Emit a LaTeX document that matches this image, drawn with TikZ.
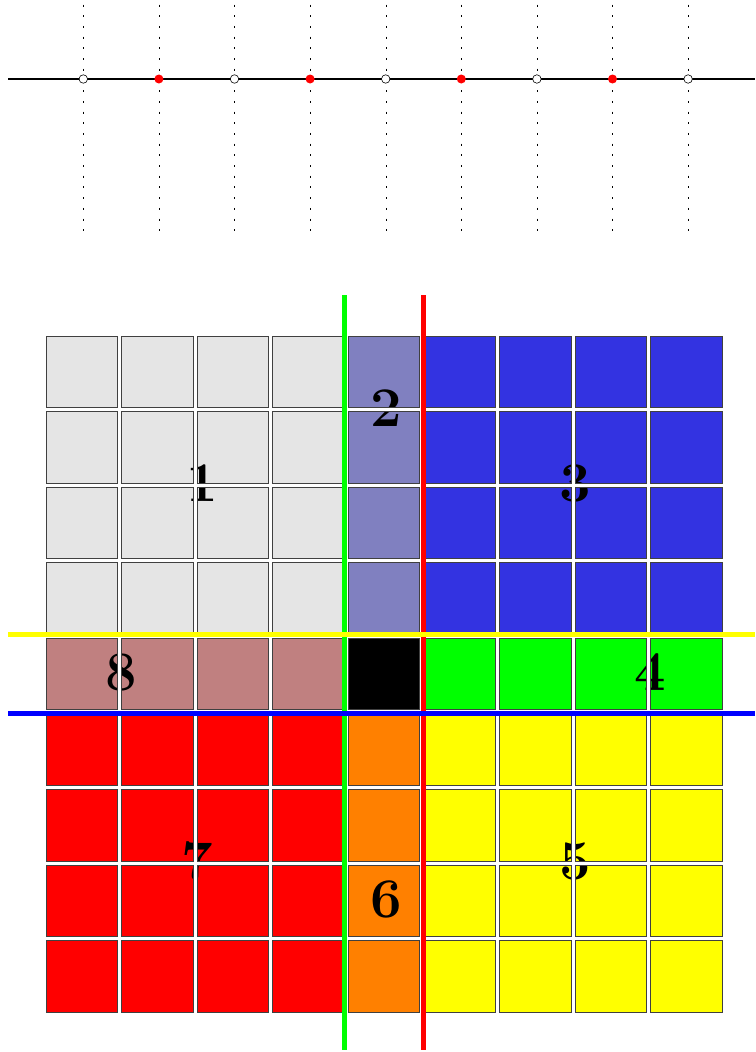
\documentclass[tikz,border=0pt]{standalone}
\usepackage{fontspec}
\definecolor{cgray}{RGB}{229,229,229}
\definecolor{cslate}{RGB}{128,128,192}
\definecolor{cblue}{RGB}{51,51,225}
\definecolor{cpink}{RGB}{192,128,128}
\definecolor{cgreen}{RGB}{0,255,0}
\definecolor{cred}{RGB}{255,0,0}
\definecolor{corange}{RGB}{255,128,0}
\definecolor{cyellow}{RGB}{255,255,0}
\newcommand\mysq[3]{\fill[#3] (46+75.6*#1,336+75.6*#2) rectangle ++(71.3,71.3);}
\begin{document}
\begin{tikzpicture}[x=1pt,y=-1pt,
  dotline/.style={line width=1pt, dash pattern=on 2pt off 8.7pt},
  opendot/.style={circle, draw=black, fill=white, line width=0.6pt, inner sep=0pt, minimum size=8.5pt},
  reddot/.style={circle, fill=red, inner sep=0pt, minimum size=9pt},
  sqborder/.style={draw=black!75, line width=0.8pt},
  lab/.style={font=\fontsize{56}{60}\selectfont\bfseries, inner sep=0pt},
  vline/.style={line width=4.6pt},
  hline/.style={line width=4.6pt}]
\useasboundingbox (0,0) rectangle (755,1052);
% top axis
\foreach \x in {83.5,159.5,234.5,310.5,386.5,461.5,537.5,612.5,688.5} \draw[dotline] (\x,4.5) -- (\x,231);
\coordinate (axl) at (8,79);
\coordinate (axr) at (755,79);
\draw[line width=2pt] (axl) -- (axr);
\foreach \k in {0,2,4,6,8} \node[opendot] (o\k) at (83.3+75.6*\k,79) {};
\foreach \k in {1,3,5,7} \node[reddot] (r\k) at (83.3+75.6*\k,79) {};
% squares
\foreach \r in {0,...,3}{
  \foreach \c in {0,...,3}{\mysq{\c}{\r}{cgray}}
  \mysq{4}{\r}{cslate}
  \foreach \c in {5,...,8}{\mysq{\c}{\r}{cblue}}
}
\foreach \c in {0,...,3}{\mysq{\c}{4}{cpink}}
\mysq{4}{4}{black}
\foreach \c in {5,...,8}{\mysq{\c}{4}{cgreen}}
\foreach \r in {5,...,8}{
  \foreach \c in {0,...,3}{\mysq{\c}{\r}{cred}}
  \mysq{4}{\r}{corange}
  \foreach \c in {5,...,8}{\mysq{\c}{\r}{cyellow}}
}
% labels
\node[lab] (n1) at (202,483) {1};
\node[lab] (n2) at (386,408) {2};
\node[lab] (n3) at (575,483) {3};
\node[lab] (n4) at (650,672) {4};
\node[lab] (n5) at (575,861) {5};
\node[lab] (n6) at (386,899) {6};
\node[lab] (n7) at (197,861) {7};
\node[lab] (n8) at (121,672) {8};
% white gaps over labels
\foreach \k in {1,...,8}{
  \fill[white] (46+75.6*\k-4.3,336) rectangle (46+75.6*\k,1012.1);
  \fill[white] (46,336+75.6*\k-4.3) rectangle (722.1,336+75.6*\k);
}
% square outlines
\foreach \r in {0,...,8}{\foreach \c in {0,...,8}{
  \draw[sqborder] (46+75.6*\c,336+75.6*\r) rectangle ++(71.3,71.3);
}}
% coloured lines
\coordinate (gt) at (344.6,295);
\coordinate (gb) at (344.6,1050);
\coordinate (rt) at (423.7,295);
\coordinate (rb) at (423.7,1050);
\coordinate (yl) at (8,634.5);
\coordinate (yr) at (755,634.5);
\coordinate (bl) at (8,713.5);
\coordinate (br) at (755,713.5);
\draw[vline, cgreen] (gt) -- (gb);
\draw[vline, cred] (rt) -- (rb);
\draw[hline, cyellow] (yl) -- (yr);
\draw[hline, blue] (bl) -- (br);
\end{tikzpicture}
\end{document}
